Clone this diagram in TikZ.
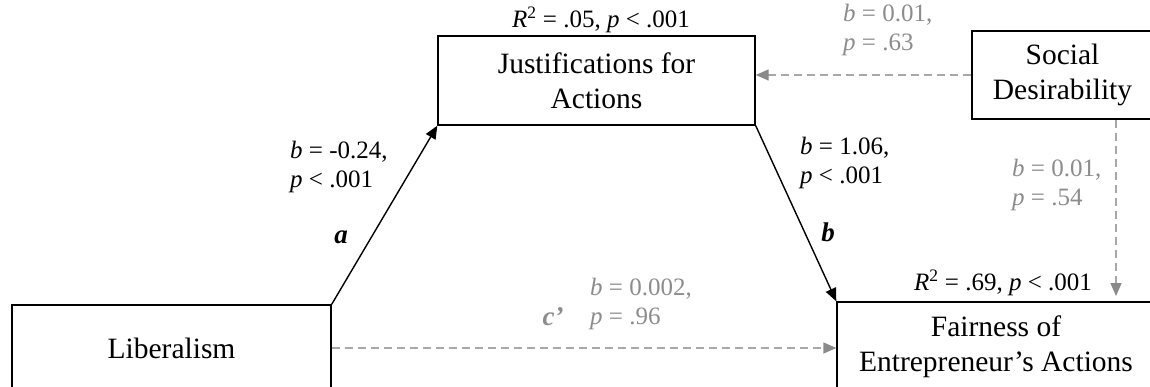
\documentclass[tikz,border=0pt]{standalone}
\usepackage{fontspec}
\setmainfont{Liberation Serif}
\usetikzlibrary{arrows.meta}
\definecolor{nstext}{HTML}{8C8C8C}
\definecolor{nsline}{HTML}{A8A8A8}
\definecolor{nstip}{HTML}{8A8A8A}
\tikzset{
  box/.style={draw, line width=1.4pt, inner sep=0pt, align=center,
    font=\fontsize{29.5}{35}\selectfont},
  solidarr/.style={line width=1.4pt, -{Triangle[length=13pt,width=11pt]}},
  dasharr/.style={line width=1.4pt, color=nsline, dash pattern=on 8pt off 5pt,
    -{Triangle[length=13pt,width=11pt,color=nstip]}},
  lbl/.style={anchor=west, inner sep=0pt, align=left,
    font=\fontsize{25}{29}\selectfont},
  nslbl/.style={lbl, text=nstext},
  path/.style={inner sep=0pt, font=\fontsize{27}{30}\selectfont\bfseries\itshape}
}
\begin{document}
\begin{tikzpicture}[x=1pt,y=-1pt]
\useasboundingbox (0,0) rectangle (1150,387);
% boxes
\node[box, minimum width=317pt, minimum height=89pt] (just) at (596.5,80.5) {Justifications for\\Actions};
\node[box, minimum width=181pt, minimum height=88pt] (sd) at (1062.5,75) {Social\\Desirability};
\node[box, minimum width=319pt, minimum height=86pt] (lib) at (171.5,348) {Liberalism};
\node[box, minimum width=318pt, minimum height=90pt] (fair) at (996,347) {Fairness of\\Entrepreneur’s Actions};
% R^2 labels
\node[lbl, anchor=center] (r1) at (601,20) {\textit{R}\textsuperscript{2} = .05, \textit{p} < .001};
\node[lbl, anchor=center] (r2) at (1003,283) {\textit{R}\textsuperscript{2} = .69, \textit{p} < .001};
% connectors
\coordinate (vend) at (1116,296);
\draw[solidarr] (lib.north east) -- (just.south west);
\draw[solidarr] (just.south east) -- (fair.north west);
\draw[dasharr] (lib.east) -- (lib.east -| fair.west);
\draw[dasharr] (sd.west) -- (sd.west -| just.east);
\draw[dasharr] (sd.south -| vend) -- (vend);
% coefficient labels
\node[lbl] (la) at (290,167) {\textit{b} = -0.24,\\\textit{p} < .001};
\node[path] (pa) at (341,237) {a};
\node[lbl] (lb) at (800,163) {\textit{b} = 1.06,\\\textit{p} < .001};
\node[path] (pb) at (828,232) {b};
\node[nslbl] (lc) at (590,304) {\textit{b} = 0.002,\\\textit{p} = .96};
\node[path, text=nstext] (pc) at (553,317) {c’};
\node[nslbl] (ld) at (843,30) {\textit{b} = 0.01,\\\textit{p} = .63};
\node[nslbl] (le) at (1012,185) {\textit{b} = 0.01,\\\textit{p} = .54};
\end{tikzpicture}
\end{document}
